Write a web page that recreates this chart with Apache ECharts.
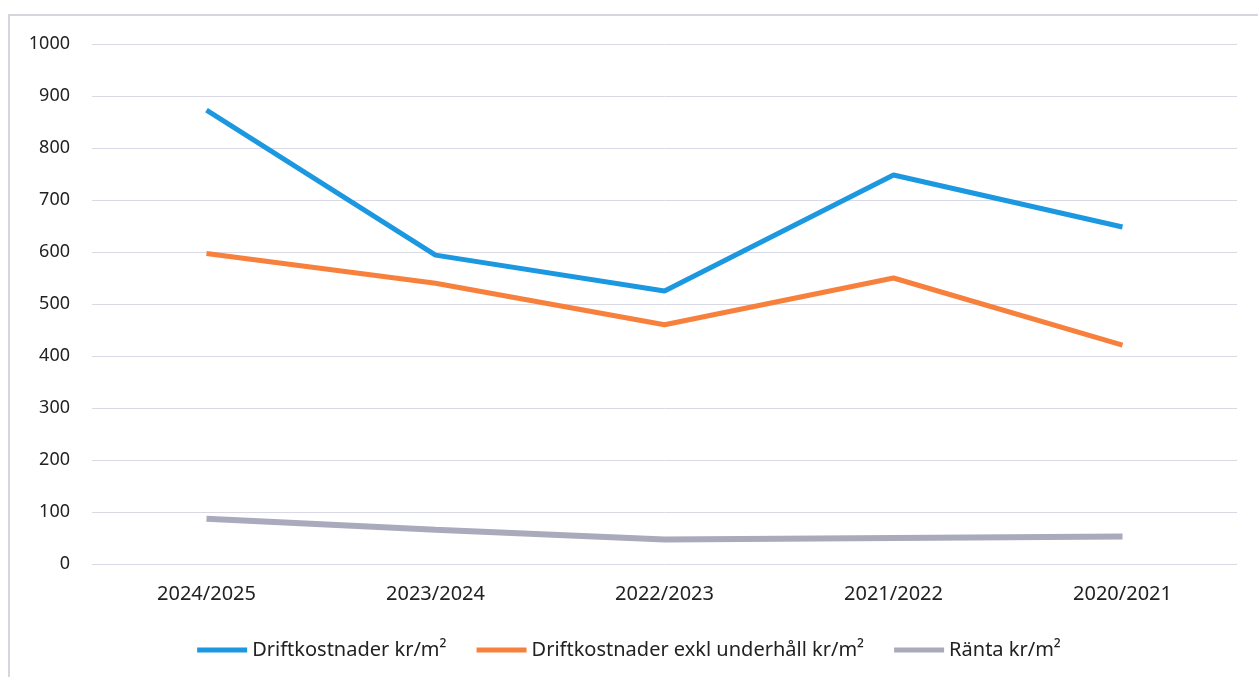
<!DOCTYPE html>
<html>
<head>
<meta charset="utf-8">
<script src="https://cdn.jsdelivr.net/npm/echarts@6/dist/echarts.min.js"></script>
<style>
html,body{margin:0;padding:0;background:#fff;}
#chart{width:1258px;height:677px;}
</style>
</head>
<body>
<div id="chart"></div>
<script>
const categories = ['2024/2025', '2023/2024', '2022/2023', '2021/2022', '2020/2021'];
const driftkostnader = [873, 594, 525, 748, 648];
const driftExklUnderhall = [597, 540, 460, 550, 421];
const ranta = [87, 66, 47, 50, 53];
const yTicks = [0, 100, 200, 300, 400, 500, 600, 700, 800, 900, 1000];

const chart = echarts.init(document.getElementById('chart'));
const font = "'Noto Sans', sans-serif";
chart.setOption({
  animation: false,
  backgroundColor: '#ffffff',
  graphic: [{
    type: 'rect',
    shape: { x: 9, y: 15, width: 1300, height: 700 },
    style: { fill: 'none', stroke: '#c9c9d6', lineWidth: 1.5 },
    silent: true
  }],
  grid: { left: 92, right: 21, top: 44, bottom: 113, containLabel: false },
  legend: {
    bottom: 12,
    left: 'center',
    itemWidth: 50,
    itemHeight: 5,
    itemGap: 30,
    icon: 'rect',
    textStyle: { fontFamily: font, fontSize: 20, color: '#222' },
    data: ['Driftkostnader kr/m²', 'Driftkostnader exkl underhåll kr/m²', 'Ränta kr/m²']
  },
  xAxis: {
    type: 'category',
    data: categories,
    boundaryGap: true,
    axisLine: { show: false },
    axisTick: { show: false },
    axisLabel: { fontFamily: font, fontSize: 20, color: '#222', margin: 20 }
  },
  yAxis: {
    type: 'value',
    min: 0,
    max: 1000,
    interval: 100,
    axisLine: { show: false },
    axisTick: { show: false },
    axisLabel: {
      fontFamily: font, fontSize: 18, color: '#222', margin: 22,
      formatter: v => yTicks.includes(v) ? String(v) : ''
    },
    splitLine: { lineStyle: { color: '#d9d9e6', width: 1 } }
  },
  series: [
    {
      name: 'Driftkostnader kr/m²', type: 'line', data: driftkostnader,
      symbol: 'none', lineStyle: { color: '#1b98e0', width: 5 }, itemStyle: { color: '#1b98e0' }
    },
    {
      name: 'Driftkostnader exkl underhåll kr/m²', type: 'line', data: driftExklUnderhall,
      symbol: 'none', lineStyle: { color: '#f7813c', width: 5 }, itemStyle: { color: '#f7813c' }
    },
    {
      name: 'Ränta kr/m²', type: 'line', data: ranta,
      symbol: 'none', lineStyle: { color: '#a9aabb', width: 6 }, itemStyle: { color: '#a9aabb' }
    }
  ]
});
</script>
</body>
</html>
